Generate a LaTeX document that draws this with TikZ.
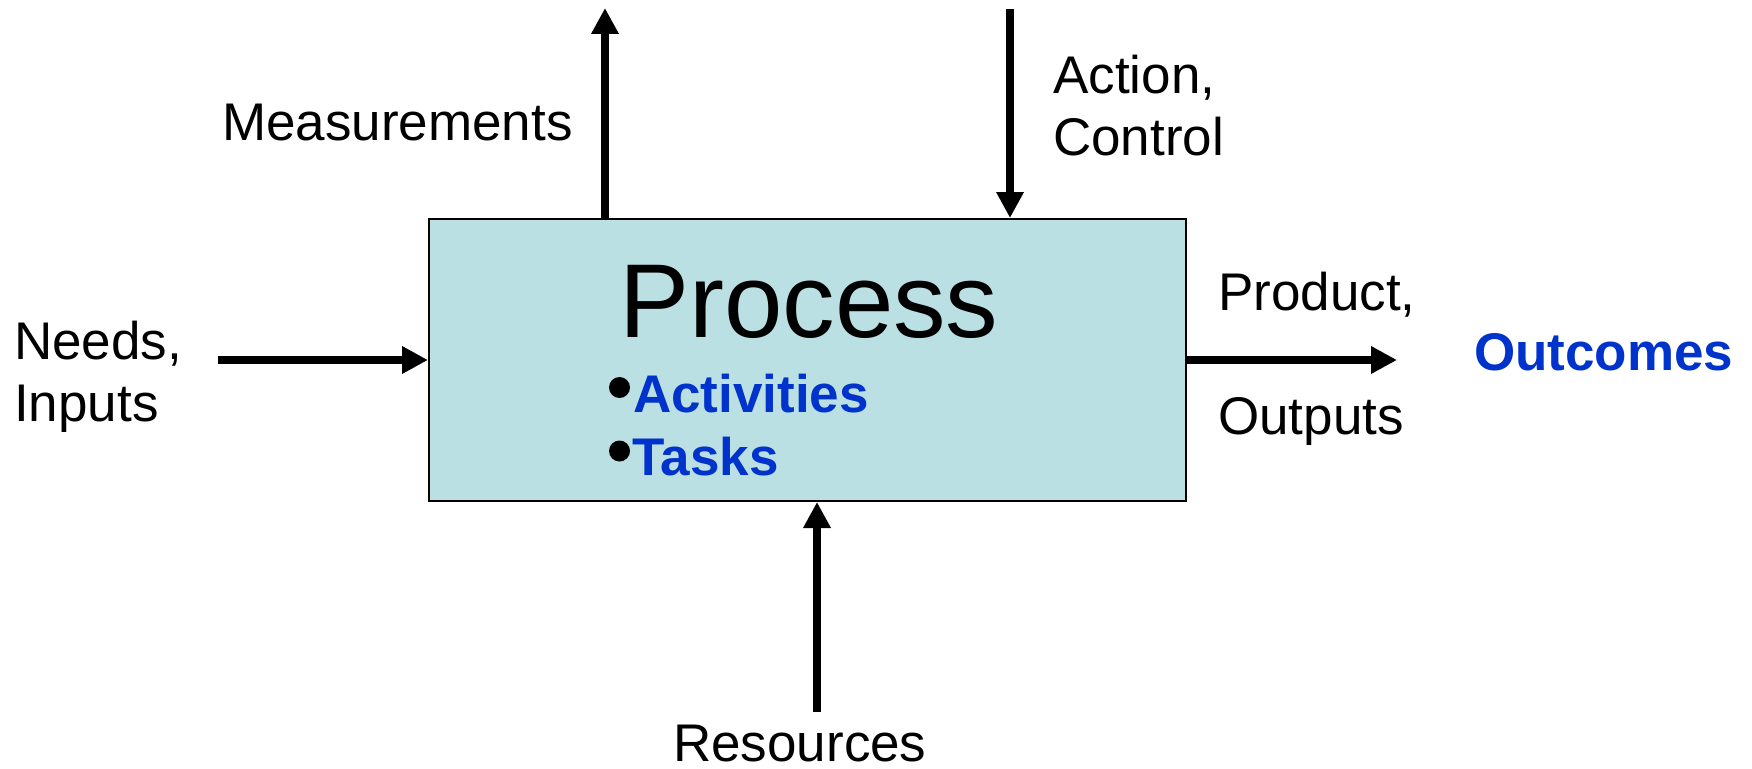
\documentclass[tikz,border=0pt]{standalone}
\usepackage{fontspec}
\setmainfont{Liberation Sans}
\usetikzlibrary{arrows.meta}
\definecolor{boxfill}{RGB}{186,224,227}
\definecolor{outblue}{RGB}{0,51,204}
\begin{document}
\begin{tikzpicture}[x=1pt,y=-1pt,
  arr/.style={line width=8pt,-{Triangle[length=26pt,width=26pt]}},
  lbl/.style={inner sep=0pt,font=\fontsize{53}{62}\selectfont,align=left},
  bluelbl/.style={inner sep=0pt,font=\fontsize{53}{62}\selectfont\bfseries,text=outblue},
  procbox/.style={draw=black,line width=2pt,fill=boxfill,minimum width=757pt,minimum height=282pt,inner sep=0pt},
  dot/.style={circle,fill=black,inner sep=0pt,minimum size=21pt}
]
\useasboundingbox (0,0) rectangle (1752,768);
% box
\node[procbox] (proc) at (807.5,360) {};
\node[anchor=base west,inner sep=0pt,font=\fontsize{105}{120}\selectfont] (ptitle) at (619,337) {Process};
\node[dot] (b1) at (619.5,387.5) {};
\node[dot] (b2) at (619.5,451) {};
\node[bluelbl,anchor=base west] (act) at (633,412) {Activities};
\node[bluelbl,anchor=base west] (tasks) at (632,475) {Tasks};
% labels
\node[lbl,anchor=base west] (meas) at (222,140) {Measurements};
\node[lbl,anchor=north west] (action) at (1053,55) {Action,\\Control};
\node[lbl,anchor=north west] (needs) at (14,321) {Needs,\\Inputs};
\node[lbl,anchor=base west] (prod) at (1218,310) {Product,};
\node[lbl,anchor=base west] (outp) at (1218,434) {Outputs};
\node[bluelbl,anchor=base west] (outc) at (1474,370) {Outcomes};
\node[lbl,anchor=base west] (res) at (673,761) {Resources};
% arrow ends
\coordinate (mtop) at (605,8);
\coordinate (atop) at (1010,9);
\coordinate (nin) at (218,360);
\coordinate (pout) at (1397,360);
\coordinate (rbot) at (817,712);
% arrows
\draw[arr] (proc.north -| mtop) -- (mtop);
\draw[arr] (atop) -- (atop |- proc.north);
\draw[arr] (nin) -- (proc.west);
\draw[arr] (proc.east) -- (pout);
\draw[arr] (rbot) -- (rbot |- proc.south);
\end{tikzpicture}
\end{document}
